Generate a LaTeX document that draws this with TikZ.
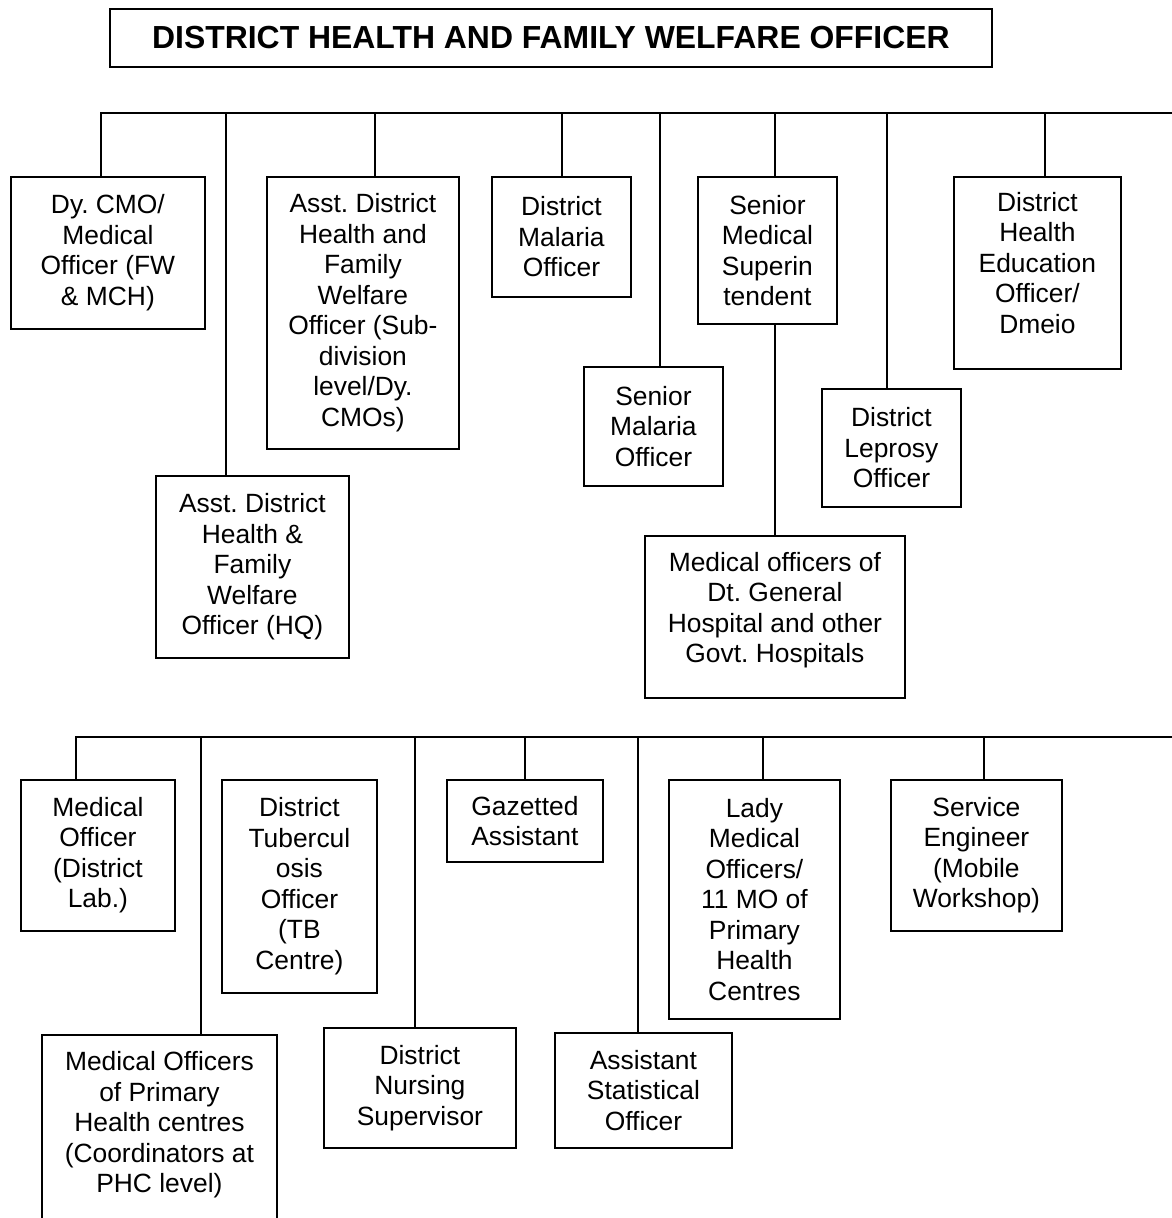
\documentclass[tikz,border=0pt]{standalone}
\usepackage{fontspec}
\setmainfont{Liberation Sans}
\usetikzlibrary{positioning}
\frenchspacing

\newcommand{\topbus}{113}
\newcommand{\lowbus}{737}
\newcommand{\rowone}{176}
\newcommand{\rowtwo}{779}
\newcommand{\lift}[1]{\rule[-#1]{0pt}{#1}}% pushes the text up in its box

\tikzstyle{post} = [% one office of the chart
  rectangle,
  anchor=north west,
  align=center,
  inner sep=0pt,
  draw=black,
  line width=1.8pt,
  font=\fontsize{26.4}{30.5}\selectfont
]
\tikzstyle{head} = [% the officer at the top
  post,
  font=\bfseries\fontsize{31.9}{36}\selectfont
]
\tikzstyle{link} = [% plain connecting line
  line width=1.8pt,
  line cap=rect
]

\begin{document}
\begin{tikzpicture}[x=1pt, y=-1pt]
\useasboundingbox (0,0) rectangle (1171,1218);

%%% Head
\node[head, minimum width=882pt, minimum height=58pt] (dhfwo) at (109,8) {DISTRICT HEALTH AND FAMILY WELFARE OFFICER};

%%% First row
\node[post, minimum width=194pt, minimum height=152pt] (dycmo) at (10,\rowone) {Dy. CMO/\\Medical\\Officer (FW\\\& MCH)};
\node[post, minimum width=193pt, minimum height=182pt] (hqofficer) at (155,475) {Asst. District\\Health \&\\Family\\Welfare\\Officer (HQ)};
\node[post, minimum width=192pt, minimum height=272pt] (subdiv) at (266,\rowone) {Asst. District\\Health and\\Family\\Welfare\\Officer (Sub-\\division\\level/Dy.\\CMOs)};
\node[post, minimum width=139pt, minimum height=120pt] (malaria) at (491,\rowone) {District\\Malaria\\Officer};
\node[post, minimum width=139pt, minimum height=119pt] (srmalaria) at (583,366) {Senior\\Malaria\\Officer};
\node[post, minimum width=139pt, minimum height=147pt] (supt) at (697,\rowone) {Senior\\Medical\\Superin\\tendent};
\node[post, minimum width=260pt, minimum height=162pt] (dtgeneral) at (644,535) {Medical officers of\\Dt. General\\Hospital and other\\Govt. Hospitals\lift{19pt}};
\node[post, minimum width=139pt, minimum height=118pt] (leprosy) at (821,388) {District\\Leprosy\\Officer};
\node[post, minimum width=167pt, minimum height=192pt] (healthedu) at (953,\rowone) {District\\Health\\Education\\Officer/\\Dmeio\lift{20pt}};

%%% Second row
\node[post, minimum width=154pt, minimum height=151pt] (medlab) at (20,\rowtwo) {Medical\\Officer\\(District\\Lab.)};
\node[post, minimum width=155pt, minimum height=213pt] (tbcentre) at (221,\rowtwo) {District\\Tubercul\\osis\\Officer\\(TB\\Centre)};
\node[post, minimum width=156pt, minimum height=82pt] (gazetted) at (446,\rowtwo) {Gazetted\\Assistant};
\node[post, minimum width=171pt, minimum height=239pt] (lady) at (668,\rowtwo) {Lady\\Medical\\Officers/\\11 MO of\\Primary\\Health\\Centres};
\node[post, minimum width=171pt, minimum height=151pt] (engineer) at (890,\rowtwo) {Service\\Engineer\\(Mobile\\Workshop)};
\node[post, minimum width=235pt, minimum height=200pt] (phc) at (41,1034) {Medical Officers\\of Primary\\Health centres\\(Coordinators at\\PHC level)\lift{25pt}};
\node[post, minimum width=192pt, minimum height=120pt] (nursing) at (323,1027) {District\\Nursing\\Supervisor};
\node[post, minimum width=177pt, minimum height=115pt] (statofficer) at (554,1032) {Assistant\\Statistical\\Officer};

%%% Lines
\foreach \x/\n in {101/dycmo, 226/hqofficer, 375/subdiv, 562/malaria, 660/srmalaria, 775/supt, 887/leprosy, 1045/healthedu}{
  \coordinate (top-\n) at (\x,\topbus);
  \draw[link] (top-\n) -- (top-\n |- \n.north);
}
\coordinate (topbus-end) at (1171,\topbus);
\draw[link] (top-dycmo) -- (topbus-end);
\draw[link] (supt.south -| top-supt) -- (dtgeneral.north -| top-supt);

\foreach \x/\n in {76/medlab, 201/phc, 415/nursing, 525/gazetted, 638/statofficer, 763/lady, 984/engineer}{
  \coordinate (low-\n) at (\x,\lowbus);
  \draw[link] (low-\n) -- (low-\n |- \n.north);
}
\coordinate (lowbus-end) at (1171,\lowbus);
\draw[link] (low-medlab) -- (lowbus-end);

\end{tikzpicture}
\end{document}
